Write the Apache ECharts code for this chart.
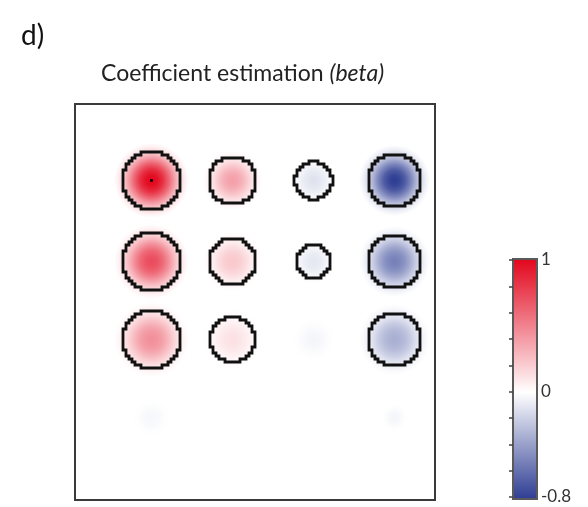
<!DOCTYPE html>
<html><head><meta charset="utf-8">
<script src="https://cdn.jsdelivr.net/npm/echarts@6/dist/echarts.min.js"></script>
<style>html,body{margin:0;padding:0;background:#fff}#c{width:588px;height:507px}</style>
</head><body><div id="c"></div>
<script>
// ---- data (map in voxel units) ----
const colX = [25.5, 52.5, 79.5, 106.5];          // blob centre columns
const rowY = [25.5, 52.5, 78.5, 104.5];          // blob centre rows
const beta = [                                   // peak coefficient of each blob
  [1.00, 0.38, -0.12, -0.80],
  [0.72, 0.22, -0.10, -0.52],
  [0.45, 0.12, -0.04, -0.33],
  [-0.03, 0.00, 0.00, -0.04]
];
const spread = [                                 // blob extent (voxels)
  [10, 8, 6.2, 9.5],
  [10, 8, 6.0, 9.5],
  [10, 8, 5.5, 9.5],
  [5, 0, 0, 3.5]
];
const contourR = [                               // significance contour radius (voxels), 0 = none
  [9.7, 7.9, 6.1, 8.8],
  [9.7, 7.8, 5.6, 8.8],
  [9.7, 7.6, 0, 8.8],
  [0, 0, 0, 0]
];
const peakMarker = [0, 0];                       // row, col of maximum
const cbMin = -0.8, cbMax = 1, cbStep = 0.2;
const cbLabels = ['1', '0', '-0.8'];

// colormap stops
const cmapStops = [[-0.8, [44, 60, 146]], [0, [255, 255, 255]], [1, [226, 4, 27]]];
function cmap(v) {
  if (v <= cmapStops[0][0]) v = cmapStops[0][0];
  if (v >= cmapStops[cmapStops.length - 1][0]) v = cmapStops[cmapStops.length - 1][0];
  for (let k = 0; k < cmapStops.length - 1; k++) {
    const a = cmapStops[k], b = cmapStops[k + 1];
    if (v >= a[0] && v <= b[0]) {
      const t = (v - a[0]) / (b[0] - a[0]);
      const c = a[1].map((x, i) => Math.round(x + (b[1][i] - x) * t));
      return 'rgb(' + c.join(',') + ')';
    }
  }
  return '#fff';
}

const blobData = [];
for (let r = 0; r < rowY.length; r++)
  for (let c = 0; c < colX.length; c++)
    blobData.push([colX[c], rowY[r], beta[r][c], spread[r][c], contourR[r][c],
      (r === peakMarker[0] && c === peakMarker[1]) ? 1 : 0]);

const profile = [[0, 1], [0.15, 0.95], [0.3, 0.83], [0.45, 0.63], [0.6, 0.4], [0.75, 0.2], [0.88, 0.07], [1, 0]];

function renderBlob(params, api) {
  const cx = api.value(0), cy = api.value(1), b = api.value(2), sp = api.value(3), cr = api.value(4), mk = api.value(5);
  const ctr = api.coord([cx, cy]);
  const unit = api.size([1, 1]);
  const children = [];
  if (sp > 0 && b !== 0) {
    const R = sp * unit[0] * 1.25;
    children.push({
      type: 'circle', shape: { cx: ctr[0], cy: ctr[1], r: R },
      style: { fill: new echarts.graphic.RadialGradient(0.5, 0.5, 0.5,
        profile.map(p => ({ offset: p[0], color: cmap(b * p[1]) }))) }
    });
  }
  if (cr > 0) {
    const n = Math.ceil(cr) + 1;
    const inside = (i, j) => i * i + j * j <= cr * cr;
    const P = (x, y) => api.coord([cx + x, cy + y]);
    let d = '';
    const seg = (x1, y1, x2, y2) => {
      const a = P(x1, y1), c = P(x2, y2);
      d += 'M' + a[0] + ' ' + a[1] + 'L' + c[0] + ' ' + c[1];
    };
    for (let i = -n; i <= n; i++)
      for (let j = -n; j <= n; j++) {
        if (!inside(i, j)) continue;
        if (!inside(i - 1, j)) seg(i - 0.5, j - 0.5, i - 0.5, j + 0.5);
        if (!inside(i + 1, j)) seg(i + 0.5, j - 0.5, i + 0.5, j + 0.5);
        if (!inside(i, j - 1)) seg(i - 0.5, j - 0.5, i + 0.5, j - 0.5);
        if (!inside(i, j + 1)) seg(i - 0.5, j + 0.5, i + 0.5, j + 0.5);
      }
    children.push({ type: 'path', shape: { pathData: d },
      style: { stroke: '#111', lineWidth: 2.8, fill: null, lineCap: 'square' } });
  }
  if (mk) {
    children.push({ type: 'rect', shape: { x: ctr[0] - 1.3, y: ctr[1] - 1.3, width: 2.6, height: 2.6 }, style: { fill: '#000' } });
  }
  return { type: 'group', children };
}

function renderBar(params, api) {
  const p0 = api.coord([0, cbMax]), p1 = api.coord([1, cbMin]);
  const stops = cmapStops.map(s => ({ offset: (cbMax - s[0]) / (cbMax - cbMin), color: cmap(s[0]) }))
    .sort((a, b) => a.offset - b.offset);
  return {
    type: 'rect', shape: { x: p0[0], y: p0[1] - 1, width: p1[0] - p0[0], height: p1[1] - p0[1] + 3 },
    style: { fill: new echarts.graphic.LinearGradient(0, 0, 0, 1, stops), stroke: '#5a5a5a', lineWidth: 2 }
  };
}

const chart = echarts.init(document.getElementById('c'), null, { renderer: 'canvas' });
chart.setOption({
  animation: false,
  backgroundColor: '#fff',
  title: {
    text: '{a|Coefficient estimation }{b|(beta)}', left: 96, top: 57,
    textStyle: { fontWeight: 'normal', rich: {
      a: { fontSize: 23, fontFamily: 'Lato', fontWeight: 'normal', color: '#222' },
      b: { fontSize: 23, fontFamily: 'Lato', fontWeight: 'normal', fontStyle: 'italic', color: '#222' } } }
  },
  graphic: [{ type: 'text', left: 21, top: 22, style: { text: 'd)', fontSize: 28, fontFamily: 'Lato', fill: '#111' } }],
  grid: [
    { left: 75, top: 104, width: 360, height: 396, show: true, borderColor: '#3a3a3a', borderWidth: 2, backgroundColor: '#fff' },
    { left: 513, top: 260, width: 24, height: 237 }
  ],
  xAxis: [
    { gridIndex: 0, type: 'value', min: 0, max: 120, show: false },
    { gridIndex: 1, type: 'value', min: 0, max: 1, show: false }
  ],
  yAxis: [
    { gridIndex: 0, type: 'value', min: 0, max: 132, inverse: true, show: false },
    { gridIndex: 1, type: 'value', min: cbMin, max: cbMax, interval: cbStep, position: 'right', z: 5,
      axisLine: { show: false }, splitLine: { show: false },
      axisTick: { show: true, inside: true, length: 4, lineStyle: { color: '#444', width: 1.5 } },
      axisLabel: { margin: 4, fontSize: 17, fontFamily: 'Lato', color: '#333',
        formatter: v => Math.abs(v - 1) < 1e-6 ? cbLabels[0] : Math.abs(v) < 1e-6 ? cbLabels[1] : Math.abs(v + 0.8) < 1e-6 ? cbLabels[2] : '' } }
  ],
  series: [
    { type: 'custom', xAxisIndex: 0, yAxisIndex: 0, renderItem: renderBlob, data: blobData, clip: true },
    { type: 'custom', xAxisIndex: 1, yAxisIndex: 1, renderItem: renderBar, data: [[0, cbMin, cbMax]], z: 1 }
  ]
});
</script></body></html>
